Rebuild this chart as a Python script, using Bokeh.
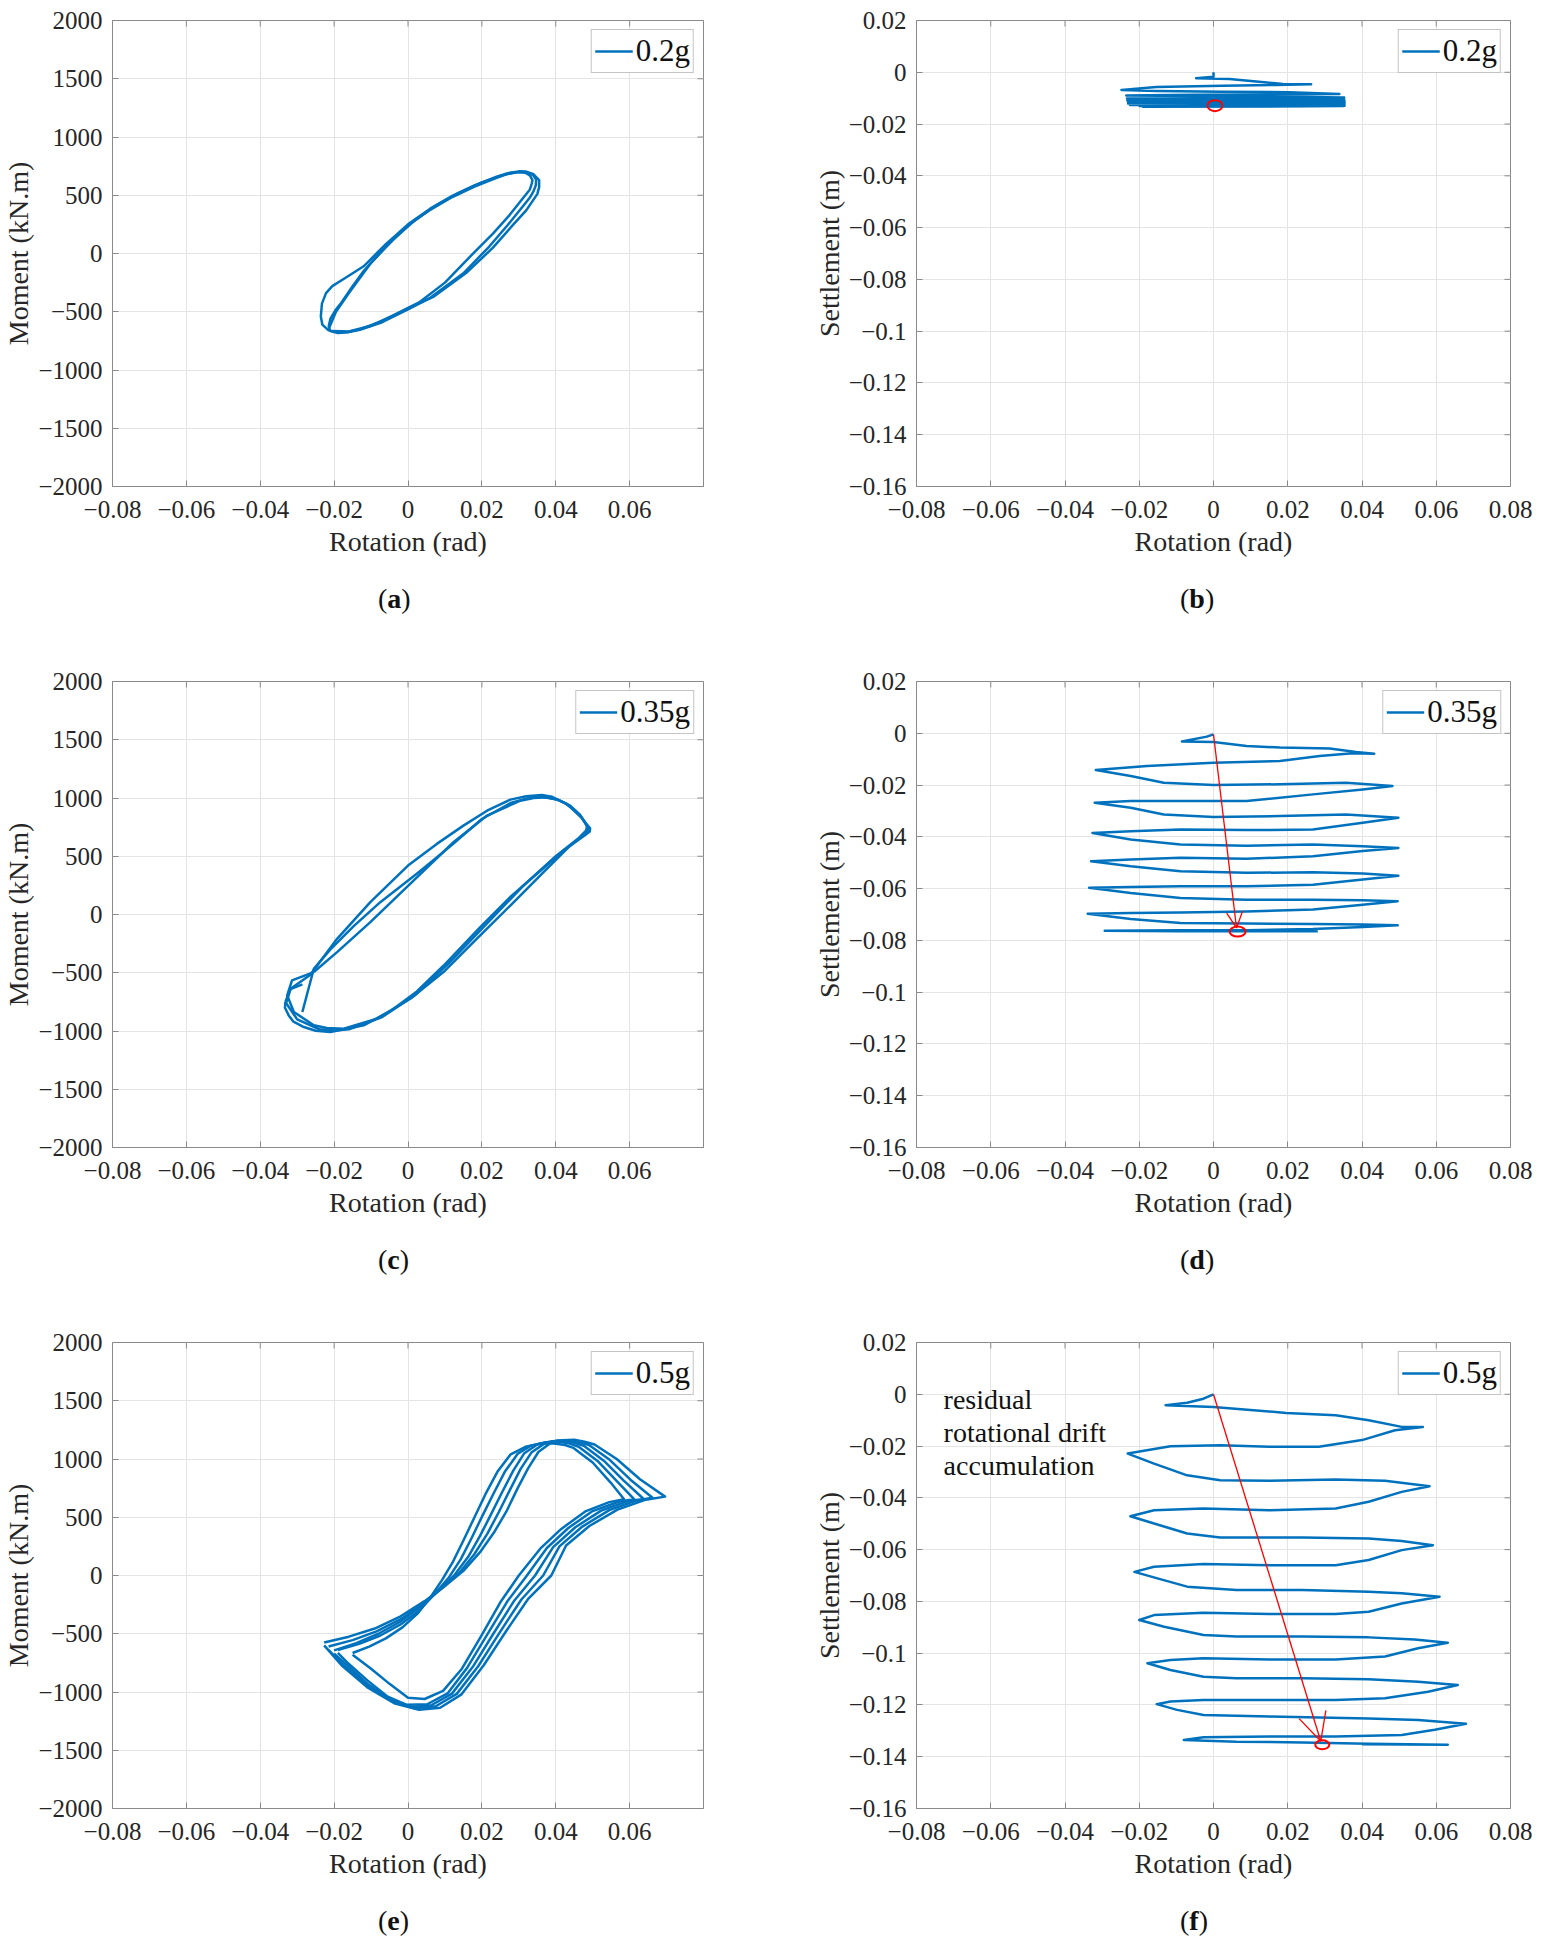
from math import pi

from bokeh.plotting import figure
from bokeh.layouts import column, row
from bokeh.models import Range1d, FixedTicker, CustomJSTickFormatter, Div, Arrow, OpenHead
from bokeh.core.properties import value
from bokeh.embed import file_html
from bokeh.resources import INLINE

FONT = "Liberation Serif"
BLUE = "#0072BD"
RED = "#FF0000"
GRAY = "#8a8a8a"
INK = "#262626"

### axis ticks and labels ###
rot_ticks = [-0.08, -0.06, -0.04, -0.02, 0.0, 0.02, 0.04, 0.06, 0.08]
rot_labels = ["\u22120.08", "\u22120.06", "\u22120.04", "\u22120.02", "0", "0.02", "0.04", "0.06", "0.08"]
rot_labels_short = rot_labels[:-1] + [""]
mom_ticks = [-2000, -1500, -1000, -500, 0, 500, 1000, 1500, 2000]
mom_labels = ["\u22122000", "\u22121500", "\u22121000", "\u2212500", "0", "500", "1000", "1500", "2000"]
set_ticks = [-0.16, -0.14, -0.12, -0.1, -0.08, -0.06, -0.04, -0.02, 0.0, 0.02]
set_labels = ["\u22120.16", "\u22120.14", "\u22120.12", "\u22120.1", "\u22120.08", "\u22120.06",
              "\u22120.04", "\u22120.02", "0", "0.02"]

### (a) 0.2g moment-rotation loops (rad, kN.m) ###
a_loop1 = [(-0.0215, -630), (-0.021, -560), (-0.0195, -480), (-0.018, -420), (-0.015, -280),
           (-0.012, -150), (-0.006, 60), (0.0, 240), (0.006, 375), (0.012, 485), (0.018, 575),
           (0.024, 650), (0.027, 683), (0.030, 700), (0.032, 697), (0.0338, 675), (0.0347, 635),
           (0.0346, 585), (0.034, 535), (0.033, 480), (0.0315, 420), (0.027, 245), (0.022, 60),
           (0.015, -170), (0.006, -380), (0.0, -480), (-0.007, -590), (-0.013, -655),
           (-0.016, -675), (-0.019, -682), (-0.021, -665), (-0.0215, -630)]
a_loop2 = [(-0.019, -675), (-0.0215, -660), (-0.0232, -610), (-0.0236, -540), (-0.0233, -430),
           (-0.0222, -340), (-0.0205, -280), (-0.017, -210), (-0.012, -110), (-0.006, 80),
           (0.0, 250), (0.006, 385), (0.012, 495), (0.018, 585), (0.024, 660), (0.027, 690),
           (0.030, 705), (0.032, 703), (0.034, 680), (0.0355, 630), (0.0355, 570), (0.035, 510),
           (0.032, 370), (0.028, 230), (0.023, 50), (0.016, -160), (0.007, -370), (0.0, -470),
           (-0.007, -580), (-0.013, -650), (-0.016, -672), (-0.019, -675)]
a_loop3 = [(-0.0215, -650), (-0.0195, -500), (-0.016, -340), (-0.010, -80), (-0.004, 120),
           (0.002, 290), (0.008, 420), (0.014, 525), (0.020, 610), (0.026, 675), (0.0285, 695),
           (0.0305, 700), (0.032, 690), (0.033, 670), (0.0337, 630), (0.0335, 600), (0.033, 550),
           (0.031, 470), (0.0275, 330), (0.023, 170), (0.017, -20), (0.010, -250), (0.003, -420),
           (-0.004, -530), (-0.010, -620), (-0.016, -670), (-0.0205, -665)]

### (b) 0.2g settlement-rotation path (rad, m) ###
b_path = [(0.0, 0.0), (0.0, -0.0017), (-0.0047, -0.0023), (0.0043, -0.0026), (0.0115, -0.0036),
          (0.0187, -0.0045), (0.0263, -0.0046), (0.0169, -0.0049), (0.0025, -0.0052),
          (-0.0154, -0.0057), (-0.0248, -0.0068), (-0.0154, -0.0072), (0.0025, -0.0075),
          (0.0204, -0.0077), (0.0339, -0.0084), (0.0150, -0.0086), (-0.0050, -0.0087),
          (-0.0235, -0.0090), (-0.0050, -0.0092), (0.0150, -0.0094), (0.0352, -0.0097),
          (-0.0233, -0.0101), (0.0352, -0.0105), (-0.0232, -0.0109), (0.0353, -0.0111),
          (-0.0230, -0.0115), (0.0353, -0.0117), (-0.0230, -0.0121), (0.0353, -0.0123),
          (-0.0225, -0.0126), (0.0353, -0.0127), (-0.0199, -0.0130), (0.0353, -0.0129),
          (-0.0190, -0.0133), (0.0350, -0.0131), (0.0005, -0.0131)]
b_marker = ([0.0004], [-0.0129])

### (c) 0.35g moment-rotation loops ###
c_loop1 = [(-0.0332, -751), (-0.0318, -637), (-0.0265, -520), (-0.0192, -209), (-0.0102, 106),
           (0.0, 420), (0.0078, 606), (0.015, 763), (0.0214, 891), (0.0277, 986), (0.032, 1015),
           (0.0362, 1026), (0.039, 1010), (0.0421, 963), (0.0445, 910), (0.0466, 849),
           (0.048, 790), (0.0493, 740), (0.0492, 712), (0.0479, 680), (0.0421, 549),
           (0.0360, 380), (0.0280, 160), (0.0195, -110), (0.0096, -440), (0.0024, -660),
           (-0.0048, -830), (-0.012, -951), (-0.021, -1009), (-0.025, -998), (-0.0282, -966),
           (-0.031, -920), (-0.0323, -866), (-0.0333, -800), (-0.0332, -751)]
c_loop2 = [(-0.0255, -494), (-0.0192, -323), (-0.0102, -66), (0.0029, 334), (0.0123, 620),
           (0.0214, 849), (0.0304, 977), (0.034, 1000), (0.0376, 1006), (0.041, 980),
           (0.0439, 934), (0.0465, 860), (0.0479, 791), (0.0488, 735), (0.0485, 706),
           (0.0439, 591), (0.0367, 363), (0.0277, 77), (0.0186, -209), (0.0096, -494),
           (0.0006, -723), (-0.0084, -894), (-0.0174, -980), (-0.022, -975), (-0.0255, -951),
           (-0.0309, -837), (-0.0327, -694), (-0.0314, -566), (-0.0255, -494)]
c_loop3 = [(-0.0286, -837), (-0.0255, -466), (-0.021, -300), (-0.0147, -100), (-0.0075, 106),
           (0.0029, 363), (0.012, 600), (0.020, 820), (0.028, 960), (0.032, 995), (0.036, 1010),
           (0.040, 990), (0.043, 950), (0.047, 830), (0.0485, 760), (0.0482, 720), (0.046, 650),
           (0.040, 500), (0.031, 240), (0.021, -90), (0.011, -420), (0.002, -690),
           (-0.007, -880), (-0.016, -985), (-0.020, -995), (-0.024, -985), (-0.030, -900),
           (-0.033, -760), (-0.0318, -640), (-0.0286, -600)]

### (d) 0.35g settlement-rotation path ###
d_path = [(0.0, -0.0004), (-0.0018, -0.0013), (-0.0085, -0.0032), (0.0, -0.0034), (0.0089, -0.0049),
          (0.0179, -0.0055), (0.0313, -0.0059), (0.0384, -0.0072), (0.0433, -0.0079),
          (0.0375, -0.0077), (0.0286, -0.0088), (0.0179, -0.0107), (0.0, -0.0114),
          (-0.0179, -0.0126), (-0.0317, -0.0142), (-0.0223, -0.0165), (-0.0134, -0.0191),
          (0.0, -0.0200), (0.0179, -0.0197), (0.0357, -0.0191), (0.0482, -0.0204),
          (0.0402, -0.0217), (0.0268, -0.0236), (0.0089, -0.0262), (-0.0089, -0.0262),
          (-0.0223, -0.0262), (-0.0320, -0.0268), (-0.0223, -0.0288), (-0.0134, -0.0314),
          (0.0, -0.0323), (0.0179, -0.0320), (0.0357, -0.0314), (0.0498, -0.0326),
          (0.0402, -0.0346), (0.0268, -0.0372), (0.0089, -0.0374), (-0.0089, -0.0372),
          (-0.0223, -0.0378), (-0.0326, -0.0385), (-0.0223, -0.0410), (-0.0089, -0.0430),
          (0.0089, -0.0434), (0.0268, -0.0430), (0.0402, -0.0436), (0.0498, -0.0443),
          (0.0402, -0.0455), (0.0268, -0.0475), (0.0089, -0.0485), (-0.0089, -0.0481),
          (-0.0223, -0.0488), (-0.0330, -0.0494), (-0.0223, -0.0514), (-0.0089, -0.0533),
          (0.0089, -0.0539), (0.0268, -0.0537), (0.0402, -0.0542), (0.0498, -0.0550),
          (0.0402, -0.0565), (0.0268, -0.0585), (0.0089, -0.0591), (-0.0089, -0.0591),
          (-0.0223, -0.0594), (-0.0335, -0.0597), (-0.0223, -0.0617), (-0.0089, -0.0636),
          (0.0089, -0.0643), (0.0268, -0.0643), (0.0402, -0.0645), (0.0496, -0.0649),
          (0.0402, -0.0662), (0.0268, -0.0681), (0.0089, -0.0688), (-0.0089, -0.0692),
          (-0.0223, -0.0694), (-0.0339, -0.0697), (-0.0223, -0.0717), (-0.0089, -0.0733),
          (0.0089, -0.0735), (0.0268, -0.0737), (0.0402, -0.0739), (0.0496, -0.0742),
          (0.0402, -0.0748), (0.0268, -0.0756), (0.0089, -0.0761), (-0.0089, -0.0761),
          (-0.0293, -0.0763), (-0.0089, -0.0765), (0.0089, -0.0765), (0.0281, -0.0765)]
d_marker = ([0.0065], [-0.0766])
d_arrow = ([0.0, 0.0062], [-0.0004, -0.0752])

### (e) 0.5g moment-rotation loops ###
e_loop1 = [(-0.0150, -665), (-0.0105, -610), (-0.0060, -540), (-0.0015, -445), (0.0025, -330),
           (0.0060, -190), (0.0092, -40), (0.0122, 120), (0.0150, 300), (0.0180, 500),
           (0.0210, 700), (0.0242, 890), (0.0278, 1040), (0.0318, 1105), (0.0355, 1130),
           (0.0390, 1135), (0.0425, 1120), (0.0448, 1095), (0.0500, 970), (0.0548, 800),
           (0.0585, 655), (0.0545, 630), (0.0480, 550), (0.0415, 400), (0.0358, 230),
           (0.0300, 0), (0.0250, -230), (0.0198, -520), (0.0146, -800), (0.0095, -990),
           (0.0045, -1060), (0.0000, -1050), (-0.0050, -930), (-0.0100, -800), (-0.0150, -680)]
e_loop2 = [(-0.0190, -640), (-0.0130, -585), (-0.0075, -515), (-0.0020, -420), (0.0030, -300),
           (0.0072, -160), (0.0110, -20), (0.0143, 140), (0.0172, 320), (0.0201, 510),
           (0.0231, 700), (0.0262, 890), (0.0297, 1045), (0.0333, 1115), (0.0372, 1143),
           (0.0410, 1148), (0.0438, 1132), (0.0462, 1105), (0.0515, 978), (0.0566, 808),
           (0.0612, 655), (0.0570, 633), (0.0500, 553), (0.0434, 408), (0.0376, 236),
           (0.0322, 0), (0.0269, -222), (0.0214, -510), (0.0160, -793), (0.0107, -1012),
           (0.0052, -1105), (-0.0003, -1110), (-0.0055, -1040), (-0.0110, -900),
           (-0.0160, -760), (-0.0190, -665)]
e_loop3 = [(-0.0200, -643), (-0.0140, -580), (-0.0080, -500), (-0.0020, -395), (0.0035, -265),
           (0.0083, -130), (0.0125, 0), (0.0163, 160), (0.0195, 340), (0.0224, 520),
           (0.0254, 710), (0.0285, 900), (0.0315, 1050), (0.0350, 1125), (0.0390, 1152),
           (0.0422, 1157), (0.0450, 1140), (0.0476, 1114), (0.0530, 986), (0.0584, 814),
           (0.0638, 657), (0.0593, 637), (0.0523, 557), (0.0453, 414), (0.0393, 243),
           (0.0344, 0), (0.0288, -214), (0.0231, -500), (0.0175, -786), (0.0119, -1014),
           (0.0063, -1114), (0.0008, -1129), (-0.0047, -1071), (-0.0110, -929),
           (-0.0164, -771), (-0.0200, -671)]
e_loop4 = [(-0.0215, -610), (-0.0150, -555), (-0.0085, -480), (-0.0020, -375), (0.0040, -245),
           (0.0092, -110), (0.0138, 20), (0.0179, 180), (0.0215, 360), (0.0246, 545),
           (0.0276, 735), (0.0305, 915), (0.0334, 1055), (0.0368, 1130), (0.0402, 1158),
           (0.0435, 1162), (0.0463, 1145), (0.0490, 1120), (0.0546, 993), (0.0603, 820),
           (0.0662, 668), (0.0615, 642), (0.0545, 561), (0.0472, 420), (0.0410, 250),
           (0.0366, 0), (0.0307, -206), (0.0248, -490), (0.0190, -779), (0.0132, -1016),
           (0.0075, -1122), (0.0018, -1140), (-0.0040, -1085), (-0.0110, -945),
           (-0.0170, -780), (-0.0215, -640)]
e_loop5 = [(-0.0227, -575), (-0.0160, -525), (-0.0090, -455), (-0.0020, -350), (0.0045, -220),
           (0.0100, -90), (0.0150, 40), (0.0195, 200), (0.0235, 380), (0.0268, 560),
           (0.0297, 750), (0.0325, 920), (0.0353, 1060), (0.0385, 1135), (0.0418, 1162),
           (0.0450, 1165), (0.0478, 1148), (0.0505, 1125), (0.0565, 1000), (0.0628, 826),
           (0.0696, 677), (0.0640, 648), (0.0567, 566), (0.0491, 425), (0.0428, 257),
           (0.0388, 0), (0.0326, -198), (0.0265, -480), (0.0205, -770), (0.0145, -1020),
           (0.0087, -1135), (0.0030, -1152), (-0.0035, -1100), (-0.0110, -960),
           (-0.0180, -770), (-0.0227, -600)]

### (f) 0.5g settlement-rotation path ###
f_path = [(0.0, 0.0), (-0.0027, -0.0017), (-0.0071, -0.0033), (-0.0129, -0.0042), (0.0, -0.0049),
          (0.0196, -0.0072), (0.0329, -0.0081), (0.0418, -0.0100), (0.0507, -0.0126),
          (0.0564, -0.0126), (0.0489, -0.0139), (0.0400, -0.0177), (0.0284, -0.0203),
          (0.0151, -0.0203), (0.0018, -0.0197), (-0.0116, -0.0201), (-0.0231, -0.0229),
          (-0.0160, -0.0268), (-0.0071, -0.0313), (0.0018, -0.0332), (0.0151, -0.0334),
          (0.0329, -0.0329), (0.0462, -0.0334), (0.0582, -0.0355), (0.0507, -0.0377),
          (0.0418, -0.0415), (0.0329, -0.0441), (0.0151, -0.0448), (-0.0027, -0.0441),
          (-0.0160, -0.0448), (-0.0224, -0.0471), (-0.0160, -0.0499), (-0.0071, -0.0538),
          (0.0018, -0.0553), (0.0240, -0.0553), (0.0418, -0.0557), (0.0507, -0.0567),
          (0.0591, -0.0583), (0.0507, -0.0602), (0.0418, -0.0640), (0.0329, -0.0660),
          (0.0151, -0.0660), (-0.0027, -0.0656), (-0.0160, -0.0666), (-0.0213, -0.0686),
          (-0.0151, -0.0711), (-0.0071, -0.0743), (0.0062, -0.0756), (0.0240, -0.0756),
          (0.0418, -0.0763), (0.0507, -0.0769), (0.0609, -0.0782), (0.0507, -0.0808),
          (0.0418, -0.0840), (0.0329, -0.0849), (0.0151, -0.0849), (-0.0027, -0.0844),
          (-0.0160, -0.0853), (-0.0200, -0.0872), (-0.0133, -0.0898), (-0.0027, -0.0930),
          (0.0062, -0.0936), (0.0240, -0.0936), (0.0418, -0.0939), (0.0542, -0.0947),
          (0.0631, -0.0960), (0.0551, -0.0981), (0.0462, -0.1013), (0.0329, -0.1024),
          (0.0151, -0.1024), (-0.0027, -0.1020), (-0.0116, -0.1026), (-0.0178, -0.1039),
          (-0.0116, -0.1065), (-0.0027, -0.1091), (0.0062, -0.1097), (0.0240, -0.1097),
          (0.0418, -0.1101), (0.0551, -0.1110), (0.0658, -0.1123), (0.0578, -0.1149),
          (0.0462, -0.1174), (0.0329, -0.1181), (0.0151, -0.1181), (-0.0027, -0.1181),
          (-0.0116, -0.1187), (-0.0153, -0.1197), (-0.0098, -0.1219), (-0.0027, -0.1239),
          (0.0151, -0.1245), (0.0418, -0.1252), (0.0551, -0.1258), (0.0680, -0.1273),
          (0.0596, -0.1296), (0.0507, -0.1316), (0.0329, -0.1322), (0.0151, -0.1322),
          (-0.0027, -0.1325), (-0.0080, -0.1335), (0.0062, -0.1342), (0.0240, -0.1345),
          (0.0418, -0.1350), (0.0631, -0.1354), (0.0400, -0.1352)]
f_marker = ([0.0293], [-0.1354])
f_arrow = ([0.0, 0.0289], [0.0, -0.1340])
f_note = ["residual", "rotational drift", "accumulation"]
f_note_y = [-0.0020, -0.0148, -0.0275]


def xy(pts):
    return [p[0] for p in pts], [p[1] for p in pts]


def tick_fmt(ticks, labels):
    return CustomJSTickFormatter(args=dict(tv=ticks, tl=labels), code="""
        for (let i = 0; i < tv.length; i++) {
            if (Math.abs(tv[i] - tick) < 1e-9) { return tl[i] }
        }
        return ""
    """)


def make_fig(left_col, top_border, yr, yticks, ylabels, ylab):
    p = figure(frame_width=591 if left_col else 594, frame_height=466,
               x_range=Range1d(-0.08, 0.08), y_range=Range1d(*yr),
               min_border_left=112, min_border_right=101 if left_col else 28,
               min_border_top=top_border, min_border_bottom=85,
               toolbar_location=None, output_backend="svg")
    p.outline_line_color = GRAY
    p.outline_line_width = 1
    p.background_fill_color = "white"
    p.border_fill_color = "white"

    p.xaxis.ticker = FixedTicker(ticks=rot_ticks)
    p.yaxis.ticker = FixedTicker(ticks=yticks)
    p.xaxis.formatter = tick_fmt(rot_ticks, rot_labels_short if left_col else rot_labels)
    p.yaxis.formatter = tick_fmt(yticks, ylabels)
    p.xaxis.axis_label = "Rotation (rad)"
    p.yaxis.axis_label = ylab
    p.xgrid.ticker = FixedTicker(ticks=rot_ticks)
    p.ygrid.ticker = FixedTicker(ticks=yticks)
    p.grid.grid_line_color = "#e4e4e4"
    p.grid.grid_line_width = 1

    for ax in p.axis:
        ax.axis_line_color = None
        ax.major_tick_in = 6
        ax.major_tick_out = 0
        ax.major_tick_line_color = GRAY
        ax.minor_tick_line_color = None
        ax.major_label_text_font = FONT
        ax.major_label_text_font_size = "25px"
        ax.major_label_text_color = INK
        ax.axis_label_text_font = FONT
        ax.axis_label_text_font_size = "28px"
        ax.axis_label_text_font_style = "normal"
        ax.axis_label_text_color = INK
    p.xaxis.major_label_standoff = 14
    p.xaxis.axis_label_standoff = 5
    p.yaxis.major_label_standoff = 10
    p.yaxis.axis_label_standoff = 1

    # mirrored inward ticks on the top and right edges of the box
    n, m = len(rot_ticks), len(yticks)
    p.ray(x=rot_ticks, y=[yr[1]] * n, length=6, length_units="screen", angle=-pi / 2,
          line_color=GRAY, line_width=1)
    p.ray(x=[0.08] * m, y=yticks, length=6, length_units="screen", angle=pi,
          line_color=GRAY, line_width=1)
    return p


def style_legend(p):
    lg = p.legend[0]
    lg.location = "top_right"
    lg.margin = 9
    lg.padding = 3
    lg.spacing = 0
    lg.glyph_width = 38
    lg.glyph_height = 30
    lg.label_standoff = 3
    lg.label_text_font = FONT
    lg.label_text_font_size = "31px"
    lg.label_text_color = "#111111"
    lg.border_line_color = GRAY
    lg.border_line_width = 1
    lg.background_fill_alpha = 1


def add_marker(p, m, w, h):
    p.ellipse(x=m[0], y=m[1], width=w, height=h, width_units="screen",
              height_units="screen", fill_color=None, line_color=RED, line_width=2)


def add_arrow(p, a, size):
    p.add_layout(Arrow(end=OpenHead(size=size, line_color=RED, line_width=1.3),
                       x_start=a[0][0], y_start=a[1][0], x_end=a[0][1], y_end=a[1][1],
                       line_color=RED, line_width=1.3))


def panel_label(letter, width, pad, height):
    html = ('<div style="font-family:\'Liberation Serif\';font-size:28px;line-height:28px;'
            'color:#111;padding-top:14px;padding-left:%dpx;">(<b>%s</b>)</div>' % (pad, letter))
    return Div(text=html, width=width, height=height, margin=(0, 0, 0, 0))


LW = 2.5

# (a)
pa = make_fig(True, 20, (-2000, 2000), mom_ticks, mom_labels, "Moment (kN.m)")
loops = [xy(a_loop1), xy(a_loop2), xy(a_loop3)]
pa.multi_line(xs=[l[0] for l in loops], ys=[l[1] for l in loops], line_color=BLUE,
              line_width=LW, line_join="round", legend_label="0.2g")
style_legend(pa)

# (b)
pb = make_fig(False, 20, (-0.16, 0.02), set_ticks, set_labels, "Settlement (m)")
bx, by = xy(b_path)
pb.line(bx, by, line_color=BLUE, line_width=LW, line_join="round", legend_label="0.2g")
add_marker(pb, b_marker, 15, 11)
style_legend(pb)

# (c)
pc = make_fig(True, 60, (-2000, 2000), mom_ticks, mom_labels, "Moment (kN.m)")
loops = [xy(c_loop1), xy(c_loop2), xy(c_loop3)]
pc.multi_line(xs=[l[0] for l in loops], ys=[l[1] for l in loops], line_color=BLUE,
              line_width=LW, line_join="round", legend_label="0.35g")
style_legend(pc)

# (d)
pd = make_fig(False, 60, (-0.16, 0.02), set_ticks, set_labels, "Settlement (m)")
dx, dy = xy(d_path)
pd.line(dx, dy, line_color=BLUE, line_width=LW, line_join="round", legend_label="0.35g")
add_arrow(pd, d_arrow, 16)
add_marker(pd, d_marker, 16, 10)
style_legend(pd)

# (e)
pe = make_fig(True, 60, (-2000, 2000), mom_ticks, mom_labels, "Moment (kN.m)")
loops = [xy(e_loop1), xy(e_loop2), xy(e_loop3), xy(e_loop4), xy(e_loop5)]
pe.multi_line(xs=[l[0] for l in loops], ys=[l[1] for l in loops], line_color=BLUE,
              line_width=LW, line_join="round", legend_label="0.5g")
style_legend(pe)

# (f)
pf = make_fig(False, 60, (-0.16, 0.02), set_ticks, set_labels, "Settlement (m)")
fx, fy = xy(f_path)
pf.line(fx, fy, line_color=BLUE, line_width=LW, line_join="round", legend_label="0.5g")
add_arrow(pf, f_arrow, 28)
add_marker(pf, f_marker, 14, 9)
pf.text(x=[-0.0727] * 3, y=f_note_y, text=f_note, text_font=value(FONT),
        text_font_size="28px", text_baseline="middle", text_align="left", text_color="#111111")
style_legend(pf)

layout = column(
    row(pa, pb),
    row(panel_label("a", 804, 378, 50), panel_label("b", 734, 376, 50)),
    row(pc, pd),
    row(panel_label("c", 804, 378, 50), panel_label("d", 734, 376, 50)),
    row(pe, pf),
    row(panel_label("e", 804, 378, 50), panel_label("f", 734, 376, 50)),
)

open("out.html", "w").write(file_html(layout, INLINE))
